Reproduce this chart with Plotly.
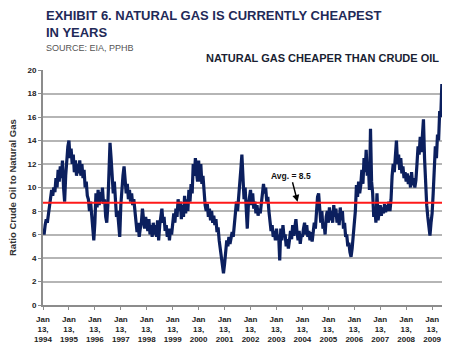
import pandas as pd
import plotly.graph_objects as go

# Ratio of crude oil to natural gas, read semi-monthly from the picture
v1994 = [6.5, 6.0, 6.8, 7.3, 7.0, 7.8, 8.3, 9.0, 9.8, 9.3, 10.0, 9.6, 10.8, 10.0, 11.5, 10.5, 11.8, 10.8, 12.3, 10.0, 8.8, 11.0, 12.5, 13.5]
v1995 = [14.0, 12.5, 13.3, 12.0, 12.8, 11.3, 12.3, 11.0, 12.0, 11.2, 12.3, 11.0, 12.0, 10.8, 11.5, 10.0, 10.5, 9.3, 9.0, 8.0, 8.8, 7.5, 6.5, 5.5]
v1996 = [7.0, 9.5, 8.3, 9.8, 8.5, 9.6, 8.8, 10.0, 8.6, 9.0, 7.5, 7.0, 8.5, 11.0, 13.8, 12.5, 11.0, 9.5, 10.5, 8.5, 7.5, 8.0, 6.5, 5.8]
v1997 = [8.5, 10.0, 11.0, 11.8, 10.5, 9.5, 10.3, 9.0, 9.8, 8.8, 9.5, 8.5, 9.0, 7.8, 7.0, 6.2, 7.0, 5.8, 6.5, 7.0, 8.2, 7.2, 6.5, 7.5]
v1998 = [7.0, 6.3, 7.3, 6.0, 6.8, 5.8, 7.0, 6.0, 6.8, 5.8, 7.2, 5.5, 6.8, 7.5, 8.2, 7.0, 7.5, 6.3, 6.8, 5.8, 6.5, 5.5, 6.5, 6.0]
v1999 = [6.8, 7.8, 7.0, 8.2, 7.5, 9.0, 8.0, 8.8, 7.3, 8.5, 7.5, 9.3, 7.8, 9.0, 8.0, 9.8, 8.8, 10.3, 9.5, 12.0, 11.0, 12.5, 11.3, 10.5]
v2000 = [12.3, 10.5, 12.0, 10.3, 11.0, 9.5, 8.5, 8.0, 8.6, 7.5, 8.2, 7.2, 8.0, 7.0, 7.6, 6.8, 7.3, 6.2, 6.6, 5.5, 4.8, 3.8, 3.0, 2.7]
v2001 = [3.5, 4.5, 5.5, 5.0, 5.8, 5.2, 5.6, 6.2, 5.8, 7.0, 7.8, 8.8, 8.0, 9.5, 10.5, 11.5, 12.8, 11.0, 9.0, 10.0, 7.5, 6.5, 8.5, 9.5]
v2002 = [9.8, 8.5, 9.5, 8.2, 8.8, 7.8, 8.5, 7.6, 8.2, 7.8, 8.8, 9.3, 10.3, 9.5, 10.0, 8.8, 9.2, 8.0, 7.0, 6.3, 6.8, 5.8, 6.3, 5.5]
v2003 = [6.5, 5.5, 6.0, 3.8, 6.5, 5.5, 6.8, 5.8, 6.0, 5.0, 5.6, 4.8, 5.5, 6.3, 5.6, 6.8, 5.9, 6.5, 7.3, 6.2, 5.5, 6.3, 5.2, 6.0]
v2004 = [5.8, 6.5, 7.0, 6.0, 6.8, 5.8, 6.3, 5.5, 6.2, 5.4, 6.4, 7.0, 6.5, 8.5, 9.2, 9.5, 8.2, 7.0, 8.0, 6.5, 7.0, 6.0, 7.5, 8.0]
v2005 = [7.0, 8.3, 7.2, 8.0, 7.0, 8.5, 7.5, 8.2, 7.0, 7.8, 6.8, 8.3, 7.2, 8.0, 6.5, 7.0, 5.8, 6.0, 5.0, 5.3, 4.5, 4.1, 4.8, 5.8]
v2006 = [7.5, 8.0, 10.2, 9.2, 10.5, 9.5, 10.2, 11.5, 10.3, 12.5, 11.3, 13.2, 11.0, 12.0, 9.8, 15.0, 10.5, 9.5, 7.5, 8.3, 7.0, 9.5, 7.2, 8.0]
v2007 = [8.5, 7.6, 8.3, 7.8, 8.6, 7.9, 8.5, 8.0, 8.8, 8.0, 9.0, 11.0, 12.0, 11.3, 12.8, 14.0, 12.0, 12.8, 11.5, 12.5, 11.2, 11.8, 10.8, 11.3]
v2008 = [10.5, 11.2, 10.3, 11.0, 10.0, 11.3, 10.2, 10.8, 10.0, 10.6, 12.0, 13.5, 12.8, 14.3, 13.0, 15.0, 15.8, 12.5, 10.0, 8.5, 7.5, 6.5, 5.9, 7.0]
v2009 = [7.8, 9.5, 11.0, 13.5, 12.5, 14.5, 14.0, 16.5, 16.0, 18.8]

avg_ratio = 8.7          # red average line as drawn
avg_label = "Avg. = 8.5" # label as printed

tick_years = list(range(1994, 2010))

ratio = (v1994 + v1995 + v1996 + v1997 + v1998 + v1999 + v2000 + v2001 +
         v2002 + v2003 + v2004 + v2005 + v2006 + v2007 + v2008 + v2009)
dates = pd.date_range("1994-01-13", periods=len(ratio), freq=pd.Timedelta(days=365.25 / 24))

tickvals = [pd.Timestamp(f"{y}-01-13") for y in tick_years]
ticktext = [f"Jan<br>13,<br>{y}" for y in tick_years]

FONT = "Liberation Sans, Arial, sans-serif"

fig = go.Figure()
fig.add_trace(go.Scatter(x=dates, y=ratio, mode="lines",
                         line=dict(color="#0b1f5e", width=3.2), hoverinfo="skip"))

fig.add_hline(y=avg_ratio, line=dict(color="#ff1a1a", width=2), layer="above")

L, R, T, B = 43, 8, 70, 52
W, H = 450, 357
pw, ph = W - L - R, H - T - B

def px(x):
    return (x - L) / pw

def py(y):
    return (H - B - y) / ph

anns = [
    dict(text="<b>EXHIBIT 6. NATURAL GAS IS CURRENTLY CHEAPEST</b>", x=px(44), y=py(16),
         xanchor="left", yanchor="middle", font=dict(size=13, color="#1f2a58")),
    dict(text="<b>IN YEARS</b>", x=px(44), y=py(32),
         xanchor="left", yanchor="middle", font=dict(size=13, color="#1f2a58")),
    dict(text="SOURCE: EIA, PPHB", x=px(44), y=py(48),
         xanchor="left", yanchor="middle", font=dict(size=9, color="#555555")),
    dict(text="<b>NATURAL GAS CHEAPER THAN CRUDE OIL</b>", x=px(441), y=py(58),
         xanchor="right", yanchor="middle", font=dict(size=11, color="#1a1f33")),
    dict(text="<b>Ratio Crude Oil to Natural Gas</b>", x=px(12), y=py(188), textangle=-90,
         xanchor="center", yanchor="middle", font=dict(size=9.5, color="#333333")),
]
for a in anns:
    a.update(xref="paper", yref="paper", showarrow=False)

fig.update_layout(
    width=W, height=H,
    margin=dict(l=L, r=R, t=T, b=B, pad=0),
    paper_bgcolor="white", plot_bgcolor="white",
    showlegend=False,
    font=dict(family=FONT, color="#222222"),
    annotations=anns + [
        dict(text=f"<b>{avg_label}</b>", x=pd.Timestamp("2003-11-10"), y=avg_ratio,
             xref="x", yref="y", showarrow=True, arrowhead=2, arrowsize=1,
             arrowwidth=1.4, arrowcolor="#000000", ax=-7, ay=-27, standoff=1,
             font=dict(size=8.5, color="#111111")),
    ],
)

fig.update_xaxes(type="date", range=["1994-01-13", "2009-06-01"],
                 tickvals=tickvals, ticktext=ticktext, tickangle=0,
                 tickfont=dict(size=8, color="#222222", family=FONT, weight="bold"),
                 showgrid=False, showline=True, linecolor="#8c8c8c", linewidth=2,
                 ticks="outside", ticklen=3, tickcolor="#8c8c8c", zeroline=False,
                 ticklabelstandoff=2)

fig.update_yaxes(range=[0, 20], dtick=2, tick0=0,
                 tickfont=dict(size=8, color="#222222", family=FONT, weight="bold"),
                 showgrid=True, gridcolor="#b5b5b5", gridwidth=1.5,
                 showline=True, linecolor="#8c8c8c", linewidth=2,
                 ticks="outside", ticklen=3, tickcolor="#8c8c8c", zeroline=False)

fig.write_html("out.html", config={"displayModeBar": False})

# remove the browser's default page margin so the figure sits at (0, 0)
with open("out.html", "r", encoding="utf-8") as f:
    html = f.read()
html = html.replace("<head>", "<head><style>html,body{margin:0;padding:0;overflow:hidden;}</style>", 1)
with open("out.html", "w", encoding="utf-8") as f:
    f.write(html)
